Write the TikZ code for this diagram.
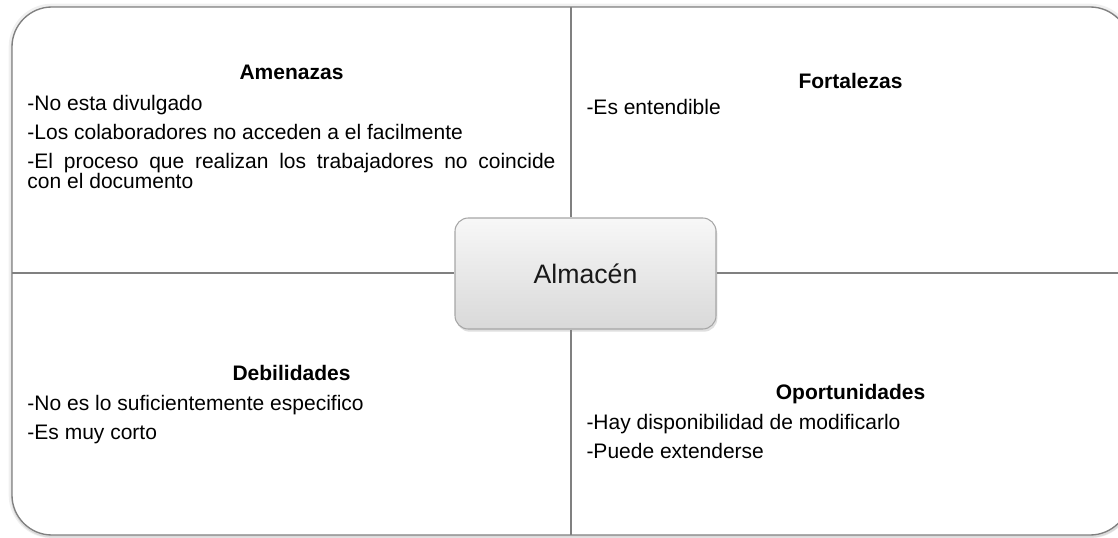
\documentclass[tikz,border=0pt]{standalone}
\usepackage{fontspec}
\setmainfont{Liberation Sans}
\usetikzlibrary{positioning,shadows}

\begin{document}
\begin{tikzpicture}[
    x=0.75pt, y=0.75pt,
    frame/.style={draw=black!50, line width=1pt, rounded corners=30pt},
    quadline/.style={draw=black!50, line width=1.1pt},
    heading/.style={font=\fontsize{15.75pt}{15pt}\selectfont\bfseries,
                    inner sep=0pt, text depth=0pt},
    itemlist/.style={font=\fontsize{15.75pt}{15pt}\selectfont,
                     inner sep=0pt, text width=396pt, align=justify},
    centerbox/.style={draw=black!35, line width=0.8pt, rounded corners=10pt,
                      top color=black!3, bottom color=black!15,
                      minimum width=195.75pt, minimum height=83.25pt,
                      font=\fontsize{20pt}{24pt}\selectfont, text=black!90,
                      drop shadow={shadow xshift=1pt, shadow yshift=-2pt,
                                   opacity=0.25}},
  ]

  \clip (0,0) rectangle (1118,537);

  % outer frame with a soft edge
  \draw[black!6, line width=5pt, rounded corners=30pt] (12,2) rectangle (1130,530);
  \draw[black!14, line width=2.5pt, rounded corners=30pt] (12.5,1) rectangle (1130.5,529);
  \fill[white, rounded corners=30pt] (12,2) rectangle (1130,530);
  \draw[frame] (12,2) rectangle (1130,530);

  \coordinate (topmid) at (571,530);
  \coordinate (botmid) at (571,2);
  \coordinate (leftmid) at (12,264);
  \coordinate (rightmid) at (1130,264);

  % quadrant headings and lists
  \node[heading, anchor=base] (amen) at (291.5,457.5) {Amenazas};
  \node[itemlist, below=11.5pt of amen] (amenlist)
    {-No esta divulgado\\[6.75pt]
     -Los colaboradores no acceden a el facilmente\\[6.75pt]
     -El proceso que realizan los trabajadores no coincide\linebreak
     con el documento};

  \node[heading, anchor=base] (fort) at (850.5,448.5) {Fortalezas};
  \node[itemlist, below=8pt of fort] (fortlist) {-Es entendible};

  \node[heading, anchor=base] (debi) at (291.5,156.5) {Debilidades};
  \node[itemlist, below=11pt of debi] (debilist)
    {-No es lo suficientemente especifico\\[6.75pt]
     -Es muy corto};

  \node[heading, anchor=base] (opor) at (850.5,137.5) {Oportunidades};
  \node[itemlist, below=11pt of opor] (oporlist)
    {-Hay disponibilidad de modificarlo\\[6.75pt]
     -Puede extenderse};

  % centre box over the cross
  \node[centerbox] (alm) at (585.5,263.5) {Almacén};

  \draw[quadline] (topmid) -- (topmid |- alm.north);
  \draw[quadline] (alm.south -| botmid) -- (botmid);
  \draw[quadline] (leftmid) -- (leftmid -| alm.west);
  \draw[quadline] (alm.east |- rightmid) -- (rightmid);

\end{tikzpicture}
\end{document}
